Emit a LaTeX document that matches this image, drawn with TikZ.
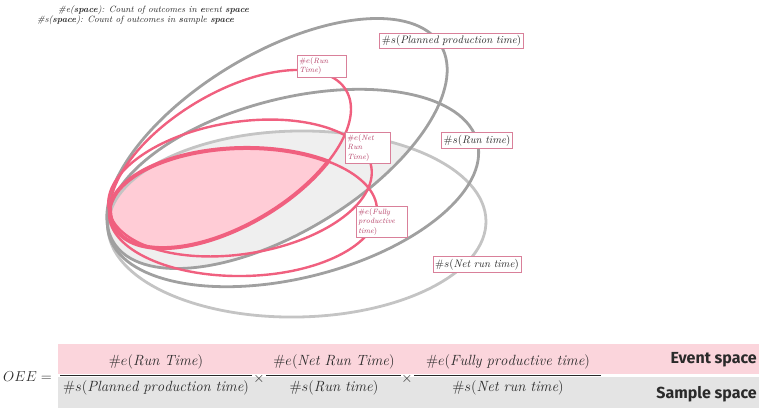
\documentclass[tikz,border=0pt]{standalone}
\usepackage{fontspec}
\newfontfamily\bandfont{Fira Sans}
\definecolor{grayA}{HTML}{A0A0A0}
\definecolor{grayB}{HTML}{C4C4C4}
\definecolor{grayfill}{HTML}{EFEFEF}
\definecolor{pinkc}{HTML}{F0607F}
\definecolor{pinkfill}{HTML}{FFCCD6}
\definecolor{boxc}{HTML}{D9809A}
\definecolor{pinkt}{HTML}{B53F66}
\definecolor{darkc}{HTML}{2A2A2A}
\definecolor{bandpink}{HTML}{FBD5DC}
\definecolor{bandgray}{HTML}{E4E4E4}
\begin{document}
\begin{tikzpicture}[x=1pt,y=-1pt,
  gline/.style={draw=grayA, line width=2.8pt},
  gline2/.style={draw=grayB, line width=2.8pt},
  pline/.style={draw=pinkc, line width=2.4pt},
  slab/.style={draw=boxc, line width=0.7pt, fill=white, inner sep=2.2pt, text=darkc, font=\fontsize{10.8}{12}\selectfont},
  elab/.style={draw=boxc, line width=0.7pt, fill=white, inner sep=2pt, align=left, anchor=north west, text=pinkt, font=\fontsize{7.6}{9.5}\selectfont},
  fml/.style={text=darkc, font=\fontsize{14.8}{17}\selectfont, inner sep=0pt},
  bandlab/.style={anchor=east, text=darkc, font=\fontsize{16}{18}\bandfont\bfseries, inner sep=0pt},
  legend/.style={anchor=west, text=darkc, font=\fontsize{9.1}{10}\selectfont\itshape, inner sep=0pt},
  fbar/.style={draw=darkc, line width=0.7pt}]
\useasboundingbox (0,0) rectangle (759,408);
% ellipse definitions
\def\EA{[rotate around={31:(277,143.5)}] (277,143.5) ellipse [x radius=191, y radius=90]}
\def\EB{[rotate around={14:(293,188)}] (293,188) ellipse [x radius=190, y radius=90]}
\def\EC{[rotate around={1:(297,224)}] (297,224) ellipse [x radius=189, y radius=93]}
\def\PA{[rotate around={30.7:(230.5,159)}] (230.5,159) ellipse [x radius=134.5, y radius=66]}
\def\PB{[rotate around={9:(240,188)}] (240,188) ellipse [x radius=133, y radius=66]}
\def\PC{[rotate around={1:(243,212)}] (243,212) ellipse [x radius=134, y radius=64]}
% gray fill: E1 and E3
\begin{scope}
  \clip\EA;
  \fill[grayfill]\EC;
\end{scope}
% pink fill: P1 and P3
\begin{scope}
  \clip\PA;
  \fill[pinkfill]\PC;
\end{scope}
% gray ellipses
\path[gline2]\EC;
\path[gline]\EA;
\path[gline]\EB;
% pink ellipses
\path[pline]\PA;
\path[pline]\PB;
\path[pline]\PC;
% thick outline of pink intersection
\begin{scope}
  \clip\PC;
  \path[draw=pinkc, line width=4pt]\PA;
\end{scope}
\begin{scope}
  \clip\PA;
  \path[draw=pinkc, line width=4pt]\PC;
\end{scope}
% labels
\node[slab] (splan) at (451.5,41) {$\#s(\mathit{Planned\ production\ time})$};
\node[slab] (srun) at (477,140.5) {$\#s(\mathit{Run\ time})$};
\node[slab] (snet) at (477,264.5) {$\#s(\mathit{Net\ run\ time})$};
\node[elab, text width=45pt] (erun) at (297,55) {$\#e(\mathit{Run}$\\$\mathit{Time})$};
\node[elab, text width=41pt] (enet) at (345,132) {$\#e(\mathit{Net}$\\$\mathit{Run}$\\$\mathit{Time})$};
\node[elab, text width=47pt] (efull) at (356,206) {$\#e(\mathit{Fully}$\\$\mathit{productive}$\\$\mathit{time})$};
% legend
\node[legend] (leg1) at (58,10) {\#e(\textbf{space}): Count of outcomes in \textbf{e}vent \textbf{space}};
\node[legend] (leg2) at (37,20) {\#s(\textbf{space}): Count of outcomes in \textbf{s}ample \textbf{space}};
% bands
\fill[bandpink] (58,344) rectangle (759,374);
\fill[bandgray] (58,376.5) rectangle (759,408);
\node[bandlab] (ev) at (757,360) {Event space};
\node[bandlab] (sa) at (757,394) {Sample space};
% formula
\node[fml, anchor=west] (oee) at (3,377) {$OEE =$};
\node[fml] (f1n) at (156,362) {$\#e(\mathit{Run\ Time})$};
\node[fml] (f1d) at (156,388) {$\#s(\mathit{Planned\ production\ time})$};
\node[fml] (x1) at (259,379) {$\times$};
\node[fml] (f2n) at (334,362) {$\#e(\mathit{Net\ Run\ Time})$};
\node[fml] (f2d) at (334,388) {$\#s(\mathit{Run\ time})$};
\node[fml] (x2) at (407,379) {$\times$};
\node[fml] (f3n) at (508,362) {$\#e(\mathit{Fully\ productive\ time})$};
\node[fml] (f3d) at (508,388) {$\#s(\mathit{Net\ run\ time})$};
\coordinate (b1l) at (60,375); \coordinate (b1r) at (252,375);
\coordinate (b2l) at (266,375); \coordinate (b2r) at (401,375);
\coordinate (b3l) at (414,375); \coordinate (b3r) at (601,375);
\draw[fbar] (b1l) -- (b1r);
\draw[fbar] (b2l) -- (b2r);
\draw[fbar] (b3l) -- (b3r);
\end{tikzpicture}
\end{document}
